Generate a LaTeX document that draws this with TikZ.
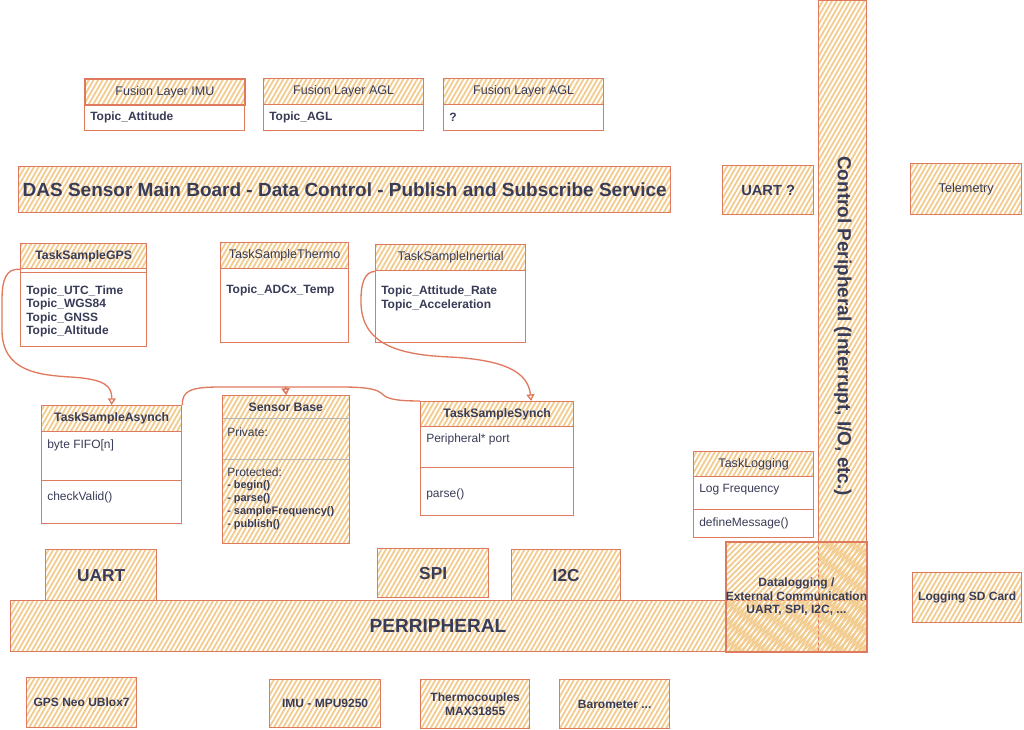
\documentclass[tikz,border=0pt]{standalone}
\usepackage{fontspec}
\setmainfont{Liberation Sans}
\usetikzlibrary{patterns.meta,arrows.meta,calc}
\definecolor{strk}{HTML}{E07A5F}
\definecolor{hatch}{HTML}{F2CC8F}
\definecolor{txt}{HTML}{393C56}
\newcommand\setfs[2]{\fontsize{#1}{#2}\selectfont}
\begin{document}
\begin{tikzpicture}[x=0.75pt,y=-0.75pt,
  every node/.style={text=txt},
  hb/.style={draw=strk, line width=1pt, pattern={Lines[angle=60,distance=3pt,line width=1.4pt]}, pattern color=hatch, inner sep=0pt, anchor=north west},
  hg/.style={draw=gray!60, line width=0.6pt, pattern={Lines[angle=60,distance=3pt,line width=1.4pt]}, pattern color=hatch, inner sep=0pt, anchor=north west},
  wb/.style={draw=strk, line width=1pt, fill=white, inner sep=0pt, anchor=north west},
  wh/.style 2 args={minimum width=#1*0.75pt, minimum height=#2*0.75pt},
  lbl/.style={anchor=west, inner sep=0pt, font=\setfs{9}{10.5}},
  lblb/.style={anchor=west, inner sep=0pt, font=\bfseries\setfs{9}{10.5}},
  hdr/.style={font=\setfs{9.4}{11}},
  hdrb/.style={font=\bfseries\setfs{9.2}{11}},
  big/.style={font=\bfseries\setfs{13}{15}},
  sm/.style={font=\bfseries\setfs{9}{10.5}, align=center},
  conn/.style={draw=strk, line width=1pt, -{Triangle[open,length=5pt,width=6pt]}}
]
\useasboundingbox (0,0) rectangle (1024,730);

% Fusion layers
\node[wb, wh={160}{26}] (f1b) at (84,104) {};
\node[hb, wh={160}{26}, hdr] (f1h) at (84,78) {Fusion Layer IMU};
\node[lblb] (f1t) at (90,117) {Topic\_Attitude};
\node[wb, wh={160}{26}] (f2b) at (263,104) {};
\node[hb, wh={160}{26}, hdr] (f2h) at (263,78) {Fusion Layer AGL};
\node[lblb] (f2t) at (269,117) {Topic\_AGL};
\node[wb, wh={160}{26}] (f3b) at (443,104) {};
\node[hb, wh={160}{26}, hdr] (f3h) at (443,78) {Fusion Layer AGL};
\node[lblb] (f3t) at (449,117) {?};

% Main banner
\node[hb, wh={652}{46}, font=\bfseries\setfs{14.25}{16}] (das) at (18,166) {DAS Sensor Main Board - Data Control - Publish and Subscribe Service};

% Right side
\node[hb, wh={91}{49}, font=\bfseries\setfs{11}{13}] (uartq) at (722,165) {UART ?};
\node[hb, wh={111}{51}, font=\setfs{9.5}{11}] (tele) at (910,163) {Telemetry};

% Peripheral bar
\node[hb, wh={856}{51}] (perr) at (10,600) {};
\node[font=\bfseries\setfs{14.3}{16}] (perrt) at (438,625.5) {PERRIPHERAL};

% Control peripheral
\node[hb, wh={48}{651}] (ctrl) at (818,0) {};
\node[rotate=-90, font=\bfseries\setfs{14.2}{16}] (ctrlt) at (ctrl.center) {Control Peripheral (Interrupt, I/O, etc.)};

% Datalogging
\node[draw=strk, line width=1pt, pattern={Lines[angle=45,distance=3pt,line width=1.4pt]}, pattern color=hatch, inner sep=0pt, anchor=north west, wh={141}{110}] (dlog) at (725,541) {};
\node[sm, font=\bfseries\setfs{9}{10.2}] (dlogt) at (dlog.center) {Datalogging /\\External Communication\\UART, SPI, I2C, ...};
\node[hb, wh={109}{50}, sm] (sdc) at (912,572) {Logging SD Card};

% Task GPS
\node[wb, wh={126}{78}] (gpsb) at (20,268) {};
\node[hb, wh={126}{25}, hdrb] (gpsh) at (20,243) {TaskSampleGPS};
\draw[strk, line width=0.6pt] ($(gpsh.south west)+(0,3)$) -- ($(gpsh.south east)+(0,3)$);
\node[lblb] (g1) at (26,291) {Topic\_UTC\_Time};
\node[lblb] (g2) at (26,304.5) {Topic\_WGS84};
\node[lblb] (g3) at (26,318) {Topic\_GNSS};
\node[lblb] (g4) at (26,331.5) {Topic\_Altitude};

% Task Thermo
\node[wb, wh={128}{74}] (thb) at (220,268) {};
\node[hb, wh={128}{26}, hdr] (thh) at (220,242) {TaskSampleThermo};
\node[lblb] (th1) at (226,290) {Topic\_ADCx\_Temp};

% Task Inertial
\node[wb, wh={150}{72}] (inerb) at (375,270) {};
\node[hb, wh={150}{26}, hdr] (inerh) at (375,244) {TaskSampleInertial};
\node[lblb] (in1) at (381,291) {Topic\_Attitude\_Rate};
\node[lblb] (in2) at (381,305) {Topic\_Acceleration};

% Task Asynch
\node[wb, wh={140}{49}] (asyb1) at (41,431) {};
\node[wb, wh={140}{43}] (asyb2) at (41,480) {};
\node[hb, wh={140}{26}, hdrb] (asyh) at (41,405) {TaskSampleAsynch};
\node[lbl] (as1) at (47,445) {byte FIFO[n]};
\node[lbl] (as2) at (47,497) {checkValid()};

% Sensor Base
\node[hg, wh={127}{23}, hdrb] (sbh) at (222,395) {Sensor Base};
\node[hg, wh={127}{41}] (sb1) at (222,418) {};
\node[hg, wh={127}{84}] (sb2) at (222,459) {};
\node[draw=strk, line width=1pt, inner sep=0pt, anchor=north west, wh={127}{148}] (sb) at (222,395) {};
\node[lbl] (sbp) at (227,432) {Private:};
\node[lbl] (sbq) at (227,472) {Protected:};
\node[anchor=north west, inner sep=0pt, align=left, font=\bfseries\setfs{8.2}{9.8}] (sbm) at (227,480) {- begin()\\- parse()\\- sampleFrequency()\\- publish()};

% Task Synch
\node[wb, wh={153}{41}] (synb1) at (420,426) {};
\node[wb, wh={153}{48}] (synb2) at (420,467) {};
\node[hb, wh={153}{25}, hdrb] (synh) at (420,401) {TaskSampleSynch};
\node[lbl] (sy1) at (426,439) {Peripheral* port};
\node[lbl] (sy2) at (426,494) {parse()};

% Task Logging
\node[wb, wh={120}{33}] (logb1) at (693,476) {};
\node[wb, wh={120}{28}] (logb2) at (693,509) {};
\node[hb, wh={120}{25}, hdr] (logh) at (693,451) {TaskLogging};
\node[lbl] (lg1) at (699,490) {Log Frequency};
\node[lbl] (lg2) at (699,523) {defineMessage()};

% Bus interfaces
\node[hb, wh={111}{51}, big] (uart) at (45,549) {UART};
\node[hb, wh={111}{49}, big] (spi) at (377,548) {SPI};
\node[hb, wh={109}{51}, big] (i2c) at (511,549) {I2C};

% Sensors
\node[hb, wh={110}{50}, sm] (gpsn) at (26,677) {GPS Neo UBlox7};
\node[hb, wh={111}{48}, sm] (imu) at (269,679) {IMU - MPU9250};
\node[hb, wh={109}{49}, sm] (tc) at (420,679) {Thermocouples\\MAX31855};
\node[hb, wh={110}{49}, sm] (baro) at (559,679) {Barometer ...};

% Connectors
\draw[conn] (gpsh.south west) .. controls (6,268) and (2,280) .. (2,300) -- (2,330) .. controls (2,372) and (40,375) .. (70,377) .. controls (105,379) and (112,386) .. (asyh.north);
\draw[conn] (inerh.south west) .. controls (365,272) and (361,282) .. (361,300) .. controls (360,345) and (400,355) .. (450,357) .. controls (505,360) and (528,372) .. ($(synh.north)+(34,0)$);
\draw[conn] (asyh.north east) .. controls (182,391) and (190,387) .. (220,387) -- (285.5,387) -- (sb.north);
\draw[conn] (synh.north west) .. controls (392,401) and (386,398) .. (381,393) .. controls (375,388) and (360,387) .. (340,387) -- (285.5,387) -- (sb.north);
\end{tikzpicture}
\end{document}
